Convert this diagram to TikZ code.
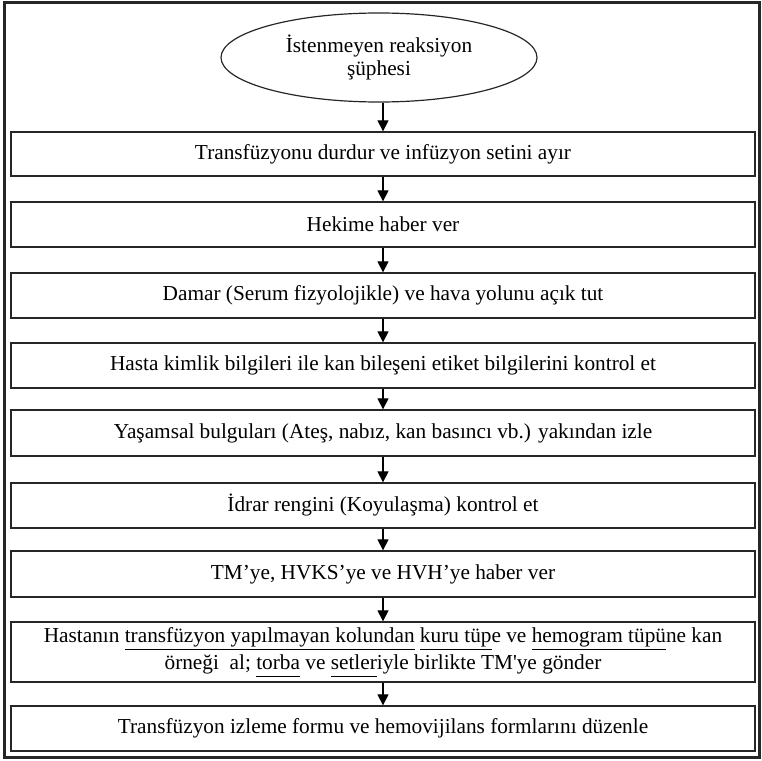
\documentclass[tikz,border=0pt]{standalone}
\usepackage{fontspec}
\setmainfont{Liberation Serif}
\usetikzlibrary{shapes.geometric,arrows.meta}
\newcommand{\ulx}[1]{\underline{\vphantom{py}#1}}
\begin{document}
\begin{tikzpicture}[x=1pt,y=-1pt,
  every node/.style={font=\fontsize{21.3}{23}\selectfont},
  stepbox/.style={draw=black!85,line width=1.3pt,rectangle,minimum width=744pt,inner sep=0pt,align=center},
  startell/.style={draw=black!85,line width=1.2pt,ellipse,minimum width=316pt,minimum height=89pt,inner sep=0pt,align=center},
  arr/.style={line width=1.2pt,-{Triangle[width=11pt,length=11pt]}}]
\useasboundingbox (0,0) rectangle (762,760);
\draw[line width=3pt,black!85] (4.5,3) rectangle (759.5,757);
\node[startell] (e) at (379,57.5) {İstenmeyen reaksiyon\\şüphesi};
\node[stepbox,minimum height=44pt] (b1) at (383,154) {Transfüzyonu durdur ve infüzyon setini ayır};
\node[stepbox,minimum height=45pt] (b2) at (383,224.5) {Hekime haber ver};
\node[stepbox,minimum height=45pt] (b3) at (383,295.5) {Damar (Serum fizyolojikle) ve hava yolunu açık tut};
\node[stepbox,minimum height=45pt] (b4) at (383,365.5) {Hasta kimlik bilgileri ile kan bileşeni etiket bilgilerini kontrol et};
\node[stepbox,minimum height=46pt] (b5) at (383,433) {Yaşamsal bulguları (Ateş, nabız, kan basıncı vb.) yakından izle};
\node[stepbox,minimum height=45pt] (b6) at (383,505.5) {İdrar rengini (Koyulaşma) kontrol et};
\node[stepbox,minimum height=46pt] (b7) at (383,574) {TM’ye, HVKS’ye ve HVH’ye haber ver};
\node[stepbox,minimum height=60pt,font=\fontsize{21.3}{27}\selectfont] (b8) at (383,652) {Hastanın \ulx{transfüzyon yapılmayan kolundan} \ulx{kuru tüp}e ve \ulx{hemogram tüpü}ne kan\\örneği\ \ al; \ulx{torba} ve \ulx{setler}iyle birlikte TM\textquotesingle ye gönder};
\node[stepbox,minimum height=45pt] (b9) at (383,728.5) {Transfüzyon izleme formu ve hemovijilans formlarını düzenle};
\draw[arr] (e.south -| b1.north) -- (b1.north);
\draw[arr] (b1) -- (b2);
\draw[arr] (b2) -- (b3);
\draw[arr] (b3) -- (b4);
\draw[arr] (b4) -- (b5);
\draw[arr] (b5) -- (b6);
\draw[arr] (b6) -- (b7);
\draw[arr] (b7) -- (b8);
\draw[arr] (b8) -- (b9);
\end{tikzpicture}
\end{document}
